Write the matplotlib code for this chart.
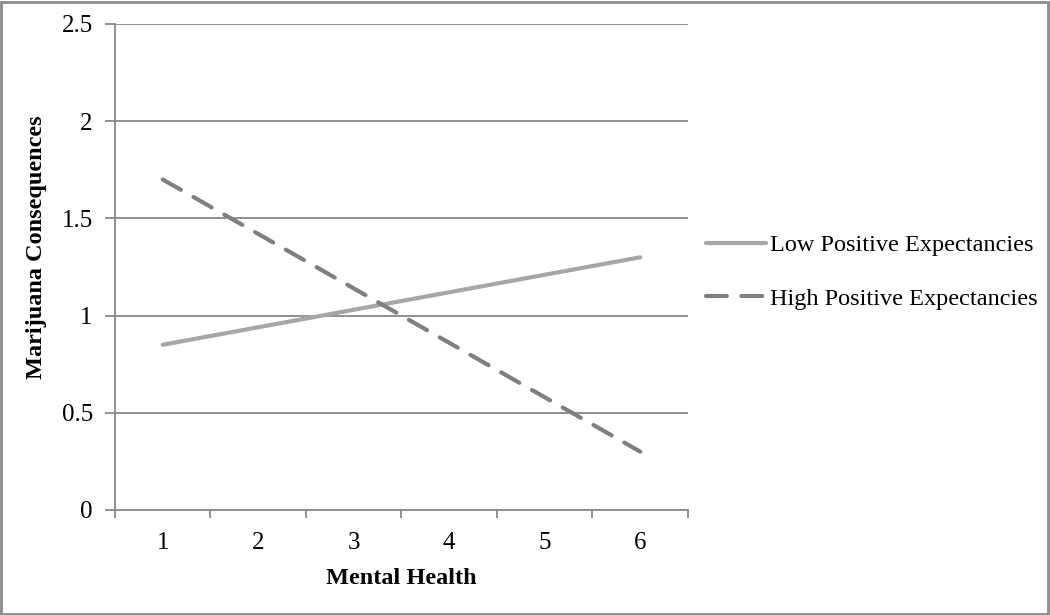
import matplotlib
matplotlib.use("Agg")
import matplotlib.pyplot as plt
from matplotlib.patches import Rectangle

categories = [1, 2, 3, 4, 5, 6]
low_pos = [0.85, 0.94, 1.03, 1.12, 1.21, 1.30]
high_pos = [1.70, 1.42, 1.14, 0.86, 0.58, 0.30]
yticks = [0, 0.5, 1, 1.5, 2, 2.5]
ytick_labels = ["0", "0.5", "1", "1.5", "2", "2.5"]

plt.rcParams['font.family'] = ['Liberation Serif', 'DejaVu Serif']

fig = plt.figure(figsize=(10.5, 6.15), dpi=100)
ax = fig.add_axes([115/1050, 1-510/615, (688-115)/1050, (510-24)/615])

grid_c = '#878787'
for y in yticks[1:]:
    ax.axhline(y, color=grid_c, lw=1.3, zorder=1)

ax.plot(categories, low_pos, color='#A6A6A6', lw=3.0, solid_capstyle='round',
        label='Low Positive Expectancies', zorder=3)
ax.plot(categories, high_pos, color='#7F7F7F', lw=3.0, dashes=(5, 3.5),
        dash_capstyle='round', label='High Positive Expectancies', zorder=3)

ax.set_xlim(0.5, 6.5)
ax.set_ylim(0, 2.5)
ax.set_yticks(yticks)
ax.set_yticklabels(ytick_labels, fontsize=18)
ax.set_xticks(categories)
ax.set_xticklabels([str(c) for c in categories], fontsize=18)
ax.tick_params(axis='x', length=0, pad=16)
ax.set_xticks([0.5 + i for i in range(7)], minor=True)
ax.tick_params(axis='x', which='minor', length=6, color=grid_c, width=1.3)
ax.tick_params(axis='y', length=7, color=grid_c, width=1.3, pad=9)

for s in ['top', 'right']:
    ax.spines[s].set_visible(False)
for s in ['left', 'bottom']:
    ax.spines[s].set_color(grid_c)
    ax.spines[s].set_linewidth(1.3)

ax.set_xlabel('Mental Health', fontsize=17.5, fontweight='bold', labelpad=10)
ax.set_ylabel('Marijuana Consequences', fontsize=17.5, fontweight='bold')
ax.yaxis.set_label_coords(-(115-47)/573, (510-247)/486)

leg = ax.legend(loc='center left', bbox_to_anchor=(1 + (706-688)/573, 0.5 - 5/486),
                borderaxespad=0, borderpad=0, frameon=False,
                fontsize=17.5, handlelength=2.45, handletextpad=0.17, labelspacing=1.3)

fig.patches.append(Rectangle((0.001, 0.001), 0.997, 0.996, transform=fig.transFigure,
                             fill=False, edgecolor='#8C8C8C', lw=2))

fig.savefig('out.png', dpi=100)
